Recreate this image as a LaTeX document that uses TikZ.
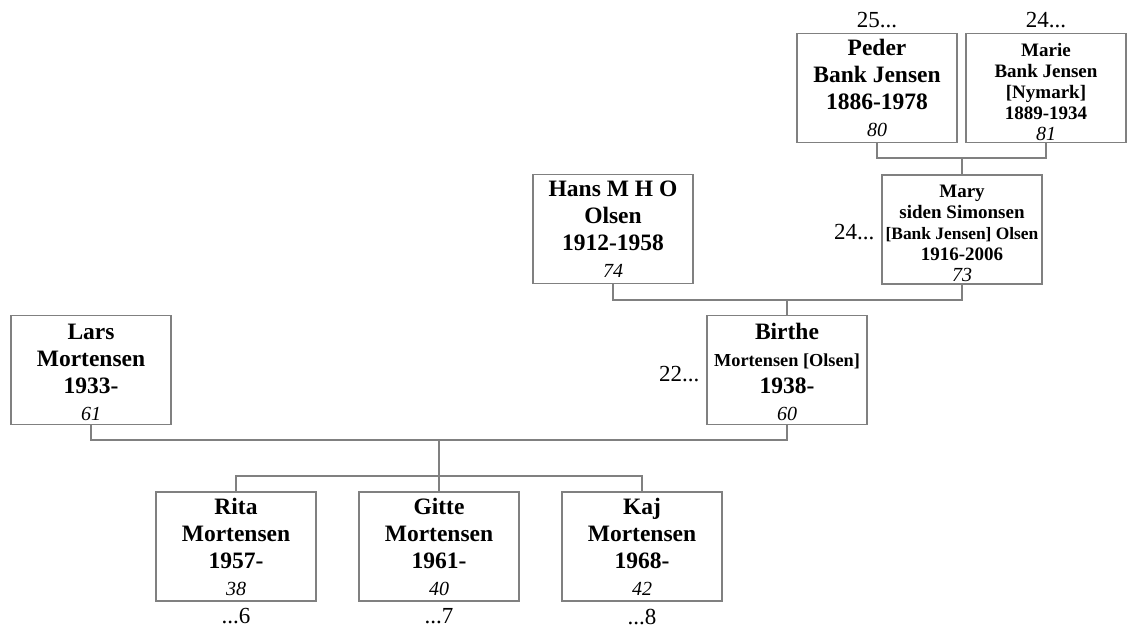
\documentclass[tikz,border=0pt]{standalone}
\usepackage{fontspec}
\setmainfont{Liberation Serif}
\usetikzlibrary{positioning}

\newcommand{\namefont}{\bfseries\fontsize{23.5}{27}\selectfont}
\newcommand{\smallnamefont}{\bfseries\fontsize{19}{21}\selectfont}
\newcommand{\refno}[1]{{\normalfont\itshape\fontsize{20}{24}\selectfont #1}}

\begin{document}
\begin{tikzpicture}[x=1pt,y=-1pt]
\tikzstyle{every node}=[font=\namefont]
\tikzstyle{person}=[draw=gray, line width=1.1pt, minimum width=160pt, minimum height=109pt, inner sep=0pt, align=center]
\tikzstyle{link}=[draw=gray, line width=1.1pt]
\tikzstyle{tag}=[inner sep=0pt, font=\normalfont\fontsize{23}{27}\selectfont]
\useasboundingbox (0,0) rectangle (1129,627);

% grandparents
\node[person] (peder) at (877,88) {Peder\\Bank Jensen\\1886-1978\\\refno{80}};
\node[person, font=\smallnamefont] (marie) at (1046,88) {\rule{0pt}{21pt}Marie\\Bank Jensen\\{[Nymark]}\\1889-1934\\\refno{81}};

% parents
\node[person] (hans) at (613,229) {Hans M H O\\Olsen\\1912-1958\\\refno{74}};
\node[person, font=\smallnamefont] (mary) at (962,229.5) {\rule{0pt}{20pt}Mary\\siden Simonsen\\{\fontsize{17.4}{21}\selectfont [Bank Jensen] Olsen}\\1916-2006\\\refno{73}};
\node[person] (lars) at (91,370) {\rule{0pt}{20pt}Lars\\Mortensen\\1933-\\\refno{61}};
\node[person] (birthe) at (787,370) {\rule{0pt}{20pt}Birthe\\{\fontsize{18.3}{27}\selectfont Mortensen [Olsen]}\\1938-\\\refno{60}};

% children
\node[person] (rita) at (236,546.5) {Rita\\Mortensen\\1957-\\\refno{38}};
\node[person] (gitte) at (439,546.5) {Gitte\\Mortensen\\1961-\\\refno{40}};
\node[person] (kaj) at (642,546.5) {Kaj\\Mortensen\\1968-\\\refno{42}};

% references
\node[tag, above=5pt of peder] (peder-ref) {25...};
\node[tag, above=5pt of marie] (marie-ref) {24...};
\node[tag, left=7pt of mary, yshift=-3pt] (mary-ref) {24...};
\node[tag, left=7pt of birthe, yshift=-4pt] (birthe-ref) {22...};
\node[tag, below=7pt of rita] (rita-ref) {...6};
\node[tag, below=7pt of gitte] (gitte-ref) {...7};
\node[tag, below=7pt of kaj] (kaj-ref) {...8};

\coordinate (pm) at (962,158);
\coordinate (hm) at (787,300);
\coordinate (lb) at (439,440);
\coordinate (kids) at (439,476);

\draw[link] (peder.south) |- (pm) -| (marie.south);
\draw[link] (pm) -- (mary.north);
\draw[link] (hans.south) |- (hm) -| (mary.south);
\draw[link] (hm) -- (birthe.north);
\draw[link] (lars.south) |- (lb) -| (birthe.south);
\draw[link] (lb) -- (gitte.north);
\draw[link] (rita.north) |- (kids) -| (kaj.north);

\end{tikzpicture}
\end{document}
